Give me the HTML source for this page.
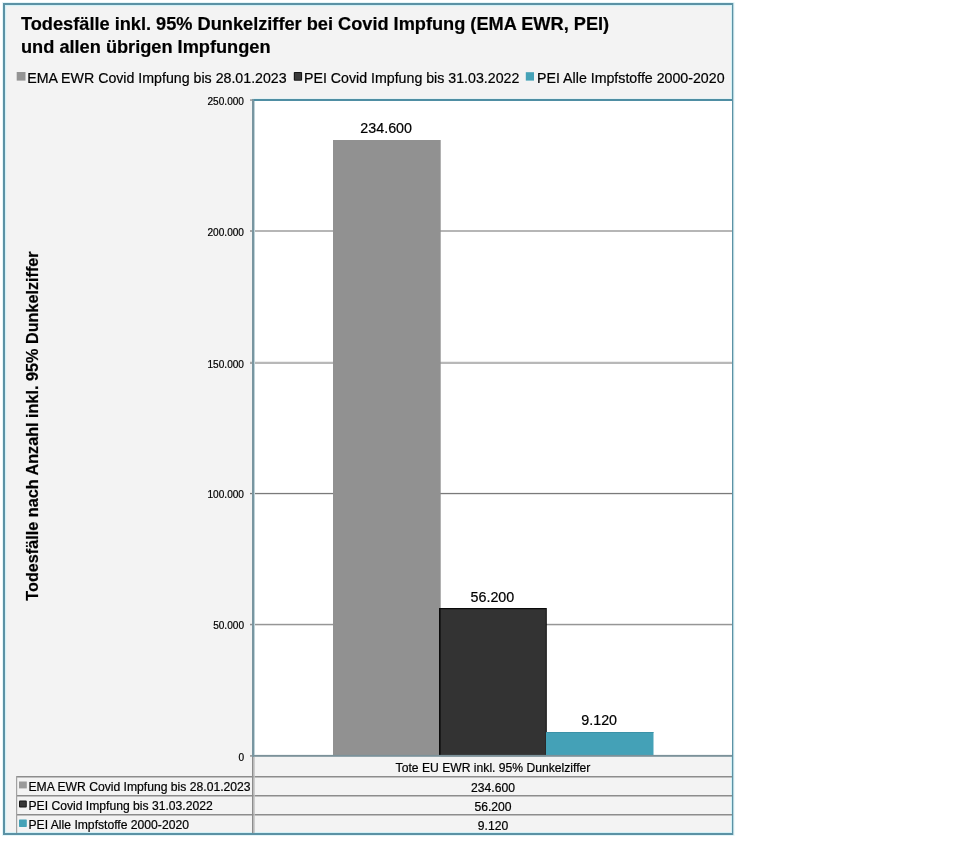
<!DOCTYPE html>
<html lang="de">
<head>
<meta charset="utf-8">
<title>Todesfälle inkl. 95% Dunkelziffer bei Covid Impfung</title>
<style>
html,body{margin:0;padding:0;background:#fff;}
body{width:960px;height:842px;position:relative;overflow:hidden;font-family:"Liberation Sans",Arial,Helvetica,sans-serif;color:#000;}
.abs{position:absolute;white-space:nowrap;-webkit-text-stroke:0.2px #000;}
svg{position:absolute;left:0;top:0;}
#title{left:21px;top:13px;font-weight:bold;font-size:18.2px;line-height:23px;}
.leg{top:70px;font-size:14.2px;line-height:16px;}
.ylab{width:60px;left:184px;text-align:right;font-size:10.1px;line-height:12px;}
.val{font-size:14.3px;line-height:16px;text-align:center;width:108px;}
.tcell{font-size:12.15px;line-height:14px;}
.tc{left:254px;width:478px;text-align:center;}
</style>
</head>
<body>
<svg width="960" height="842" viewBox="0 0 960 842">
  <!-- outer frame -->
  <rect x="2" y="2" width="732.5" height="834" fill="#e4f5f8"/>
  <rect x="3" y="3" width="730.3" height="832" fill="#5b92a5"/>
  <rect x="5" y="5" width="727" height="828" fill="#d4f1f6"/>
  <rect x="6.2" y="6.2" width="724.8" height="825.8" fill="#f3f3f3"/>
  <!-- plot area -->
  <rect x="252" y="98.5" width="480" height="3.5" fill="#d9f1f6"/>
  <rect x="254" y="101" width="478" height="654" fill="#ffffff"/>
  <!-- gridlines -->
  <rect x="254" y="230" width="478" height="2" fill="#b6b6b6"/>
  <rect x="254" y="361.75" width="478" height="2.25" fill="#b8b8b8"/>
  <rect x="254" y="492.9" width="478" height="1.3" fill="#7a7a7a"/>
  <rect x="254" y="623.8" width="478" height="1.5" fill="#969696"/>
  <!-- plot top border -->
  <rect x="252" y="99" width="480" height="2" fill="#4f8ea3"/>
  <!-- bars -->
  <rect x="333" y="140" width="107.7" height="616" fill="#919191"/>
  <rect x="439" y="608" width="107.8" height="148" fill="#0a0a0a"/>
  <rect x="440.6" y="609.2" width="105.2" height="147" fill="#333333"/>
  <rect x="546" y="732" width="107.5" height="24" fill="#44a1b7"/>
  <rect x="546" y="732" width="107.5" height="0.8" fill="#3a8fa4"/>
  <!-- x axis -->
  <rect x="252" y="754.9" width="480" height="1.9" fill="#7b9199"/>
  <!-- y axis -->
  <rect x="254" y="101" width="1" height="654" fill="#bfd3d9"/>
  <rect x="252" y="99" width="2" height="658" fill="#7895a0"/>
  <!-- ticks -->
  <rect x="250" y="99.4" width="2" height="1.3" fill="#8a8a8a"/>
  <rect x="250" y="230" width="2" height="2" fill="#a8a8a8"/>
  <rect x="250" y="361.75" width="2" height="2.25" fill="#a8a8a8"/>
  <rect x="250" y="492.9" width="2" height="1.3" fill="#7a7a7a"/>
  <rect x="250" y="623.8" width="2" height="1.5" fill="#909090"/>
  <rect x="250" y="755.2" width="2" height="1.4" fill="#8a8a8a"/>
  <!-- table lines -->
  <g fill="#8c8c8c">
    <rect x="16" y="776" width="716" height="1.5"/>
    <rect x="16" y="795" width="716" height="1.5"/>
    <rect x="16" y="814" width="716" height="1.5"/>
    <rect x="16" y="776" width="1.2" height="57" fill="#a2a2a2"/>
    <rect x="252" y="757" width="1.6" height="76"/>
  </g>
  <rect x="253.6" y="757" width="1.2" height="76" fill="#c4c4c4"/>
  <!-- legend swatches -->
  <rect x="16.7" y="72" width="8.8" height="8.6" fill="#949494"/>
  <rect x="293.8" y="72" width="8.3" height="8.8" rx="0.8" fill="#151515"/>
  <rect x="294.9" y="73" width="6.2" height="6.8" fill="#3a3a3a"/>
  <rect x="525.8" y="72.2" width="8.2" height="8.4" fill="#45a2b7"/>
  <!-- table swatches -->
  <rect x="19" y="781.5" width="7.8" height="6.9" fill="#9a9a9a"/>
  <rect x="19" y="800.5" width="7.8" height="7" rx="1" fill="#141414"/>
  <rect x="20" y="801.5" width="5.8" height="5" fill="#383838"/>
  <rect x="19" y="819.5" width="7.8" height="7.4" rx="0.6" fill="#45a2b7"/>
</svg>

<div id="title" class="abs">Todesfälle inkl. 95% Dunkelziffer bei Covid Impfung (EMA EWR, PEI)<br>und allen übrigen Impfungen</div>

<div class="abs leg" style="left:27.2px">EMA EWR Covid Impfung bis 28.01.2023</div>
<div class="abs leg" style="left:304px">PEI Covid Impfung bis 31.03.2022</div>
<div class="abs leg" style="left:537.1px">PEI Alle Impfstoffe 2000-2020</div>

<div class="abs ylab" style="top:96px">250.000</div>
<div class="abs ylab" style="top:227px">200.000</div>
<div class="abs ylab" style="top:359px">150.000</div>
<div class="abs ylab" style="top:489px">100.000</div>
<div class="abs ylab" style="top:620px">50.000</div>
<div class="abs ylab" style="top:752px">0</div>

<div id="ytitle" class="abs" style="left:31.6px;top:426.4px;font-weight:bold;font-size:16.22px;line-height:18px;transform:translate(-50%,-50%) rotate(-90deg);">Todesfälle nach Anzahl inkl. 95% Dunkelziffer</div>

<div class="abs val" style="left:332.2px;top:120px">234.600</div>
<div class="abs val" style="left:438.4px;top:589px">56.200</div>
<div class="abs val" style="left:545.2px;top:712px">9.120</div>

<div class="abs tcell tc" style="top:761px">Tote EU EWR inkl. 95% Dunkelziffer</div>
<div class="abs tcell tc" style="top:781px">234.600</div>
<div class="abs tcell tc" style="top:800px">56.200</div>
<div class="abs tcell tc" style="top:819px">9.120</div>

<div class="abs tcell" style="left:28.5px;top:780px">EMA EWR Covid Impfung bis 28.01.2023</div>
<div class="abs tcell" style="left:28.5px;top:799px">PEI Covid Impfung bis 31.03.2022</div>
<div class="abs tcell" style="left:28.5px;top:818px">PEI Alle Impfstoffe 2000-2020</div>
</body>
</html>
